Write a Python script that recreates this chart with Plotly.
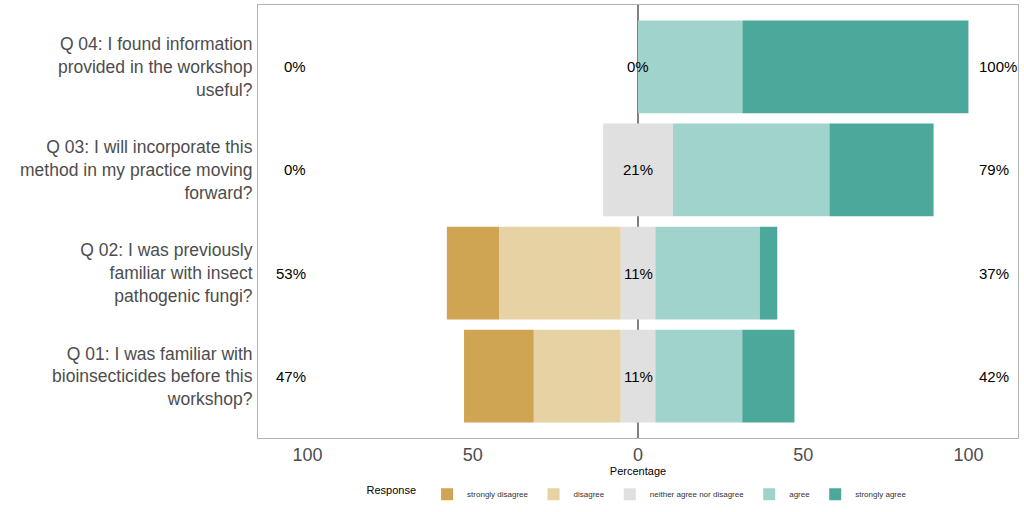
import plotly.graph_objects as go

# ---- data (percent of respondents) ----
questions = [
    "Q 01: I was familiar with<br>bioinsecticides before this<br>workshop?",
    "Q 02: I was previously<br>familiar with insect<br>pathogenic fungi?",
    "Q 03: I will incorporate this<br>method in my practice moving<br>forward?",
    "Q 04: I found information<br>provided in the workshop<br>useful?",
]
strongly_disagree = [21.1, 15.8, 0.0, 0.0]
disagree = [26.3, 36.8, 0.0, 0.0]
neutral = [10.5, 10.5, 21.1, 0.0]
agree = [26.3, 31.6, 47.4, 31.6]
strongly_agree = [15.8, 5.3, 31.5, 68.4]

low_labels = ["47%", "53%", "0%", "0%"]
mid_labels = ["11%", "11%", "21%", "0%"]
high_labels = ["42%", "37%", "79%", "100%"]

tick_vals = [-100, -50, 0, 50, 100]
tick_text = ["100", "50", "0", "50", "100"]

colors = {
    "strongly disagree": "#CFA553",
    "disagree": "#E6D2A3",
    "neither agree nor disagree": "#E0E0E0",
    "agree": "#A0D3CB",
    "strongly agree": "#4BA89B",
}

FONT = "Liberation Sans, Arial, sans-serif"

fig = go.Figure()
y_idx = list(range(len(questions)))

def add(name, vals, rank, show=True):
    fig.add_trace(go.Bar(
        y=y_idx, x=vals, orientation="h", name=name,
        marker=dict(color=colors[name], line=dict(width=0)),
        width=0.9, legendrank=rank, showlegend=show, hoverinfo="x+name",
    ))

half_neutral = [v / 2 for v in neutral]
add("neither agree nor disagree", [-v for v in half_neutral], 3, show=True)
add("neither agree nor disagree", half_neutral, 3, show=False)
add("disagree", [-v for v in disagree], 2)
add("agree", agree, 4)
add("strongly disagree", [-v for v in strongly_disagree], 1)
add("strongly agree", strongly_agree, 5)

annotations = []
for i in y_idx:
    annotations.append(dict(x=-100, y=i, text=low_labels[i], showarrow=False,
                            xanchor="right", font=dict(size=15, color="black", family=FONT)))
    annotations.append(dict(x=0, y=i, text=mid_labels[i], showarrow=False,
                            xanchor="center", font=dict(size=15, color="black", family=FONT)))
    annotations.append(dict(x=102.5, y=i, text=high_labels[i], showarrow=False,
                            xanchor="left", font=dict(size=15, color="black", family=FONT)))

fig.update_layout(
    width=1024, height=512,
    barmode="relative",
    paper_bgcolor="white", plot_bgcolor="white",
    margin=dict(l=258, r=6, t=5, b=74, autoexpand=False),
    font=dict(family=FONT, color="#4D4D4D"),
    annotations=annotations,
    shapes=[dict(type="line", xref="x", yref="paper", x0=0, x1=0, y0=0, y1=1,
                 line=dict(color="#555555", width=1.5), layer="below")],
    legend=dict(orientation="h", x=0.5, xanchor="center", y=-0.13, yanchor="middle",
                title=dict(text="Response ", side="left", font=dict(size=11, color="black")),
                font=dict(size=8, color="#333333"), traceorder="normal"),
    xaxis=dict(range=[-115, 115], tickvals=tick_vals, ticktext=tick_text,
               tickfont=dict(size=18, color="#4D4D4D"), showgrid=False, zeroline=False,
               showline=True, mirror=True, linecolor="#B3B3B3", linewidth=1,
               ticks="", title=dict(text="Percentage", font=dict(size=11, color="black"), standoff=0)),
    yaxis=dict(range=[-0.6, 3.6], tickvals=y_idx, ticktext=questions,
               tickfont=dict(size=17.5, color="#4D4D4D"), showgrid=False, zeroline=False,
               showline=True, mirror=True, linecolor="#B3B3B3", linewidth=1, ticks="",
               ticklabelstandoff=1),
)

fig.write_html("out.html", config={"displayModeBar": False},
               post_script="document.body.style.margin='0';")
